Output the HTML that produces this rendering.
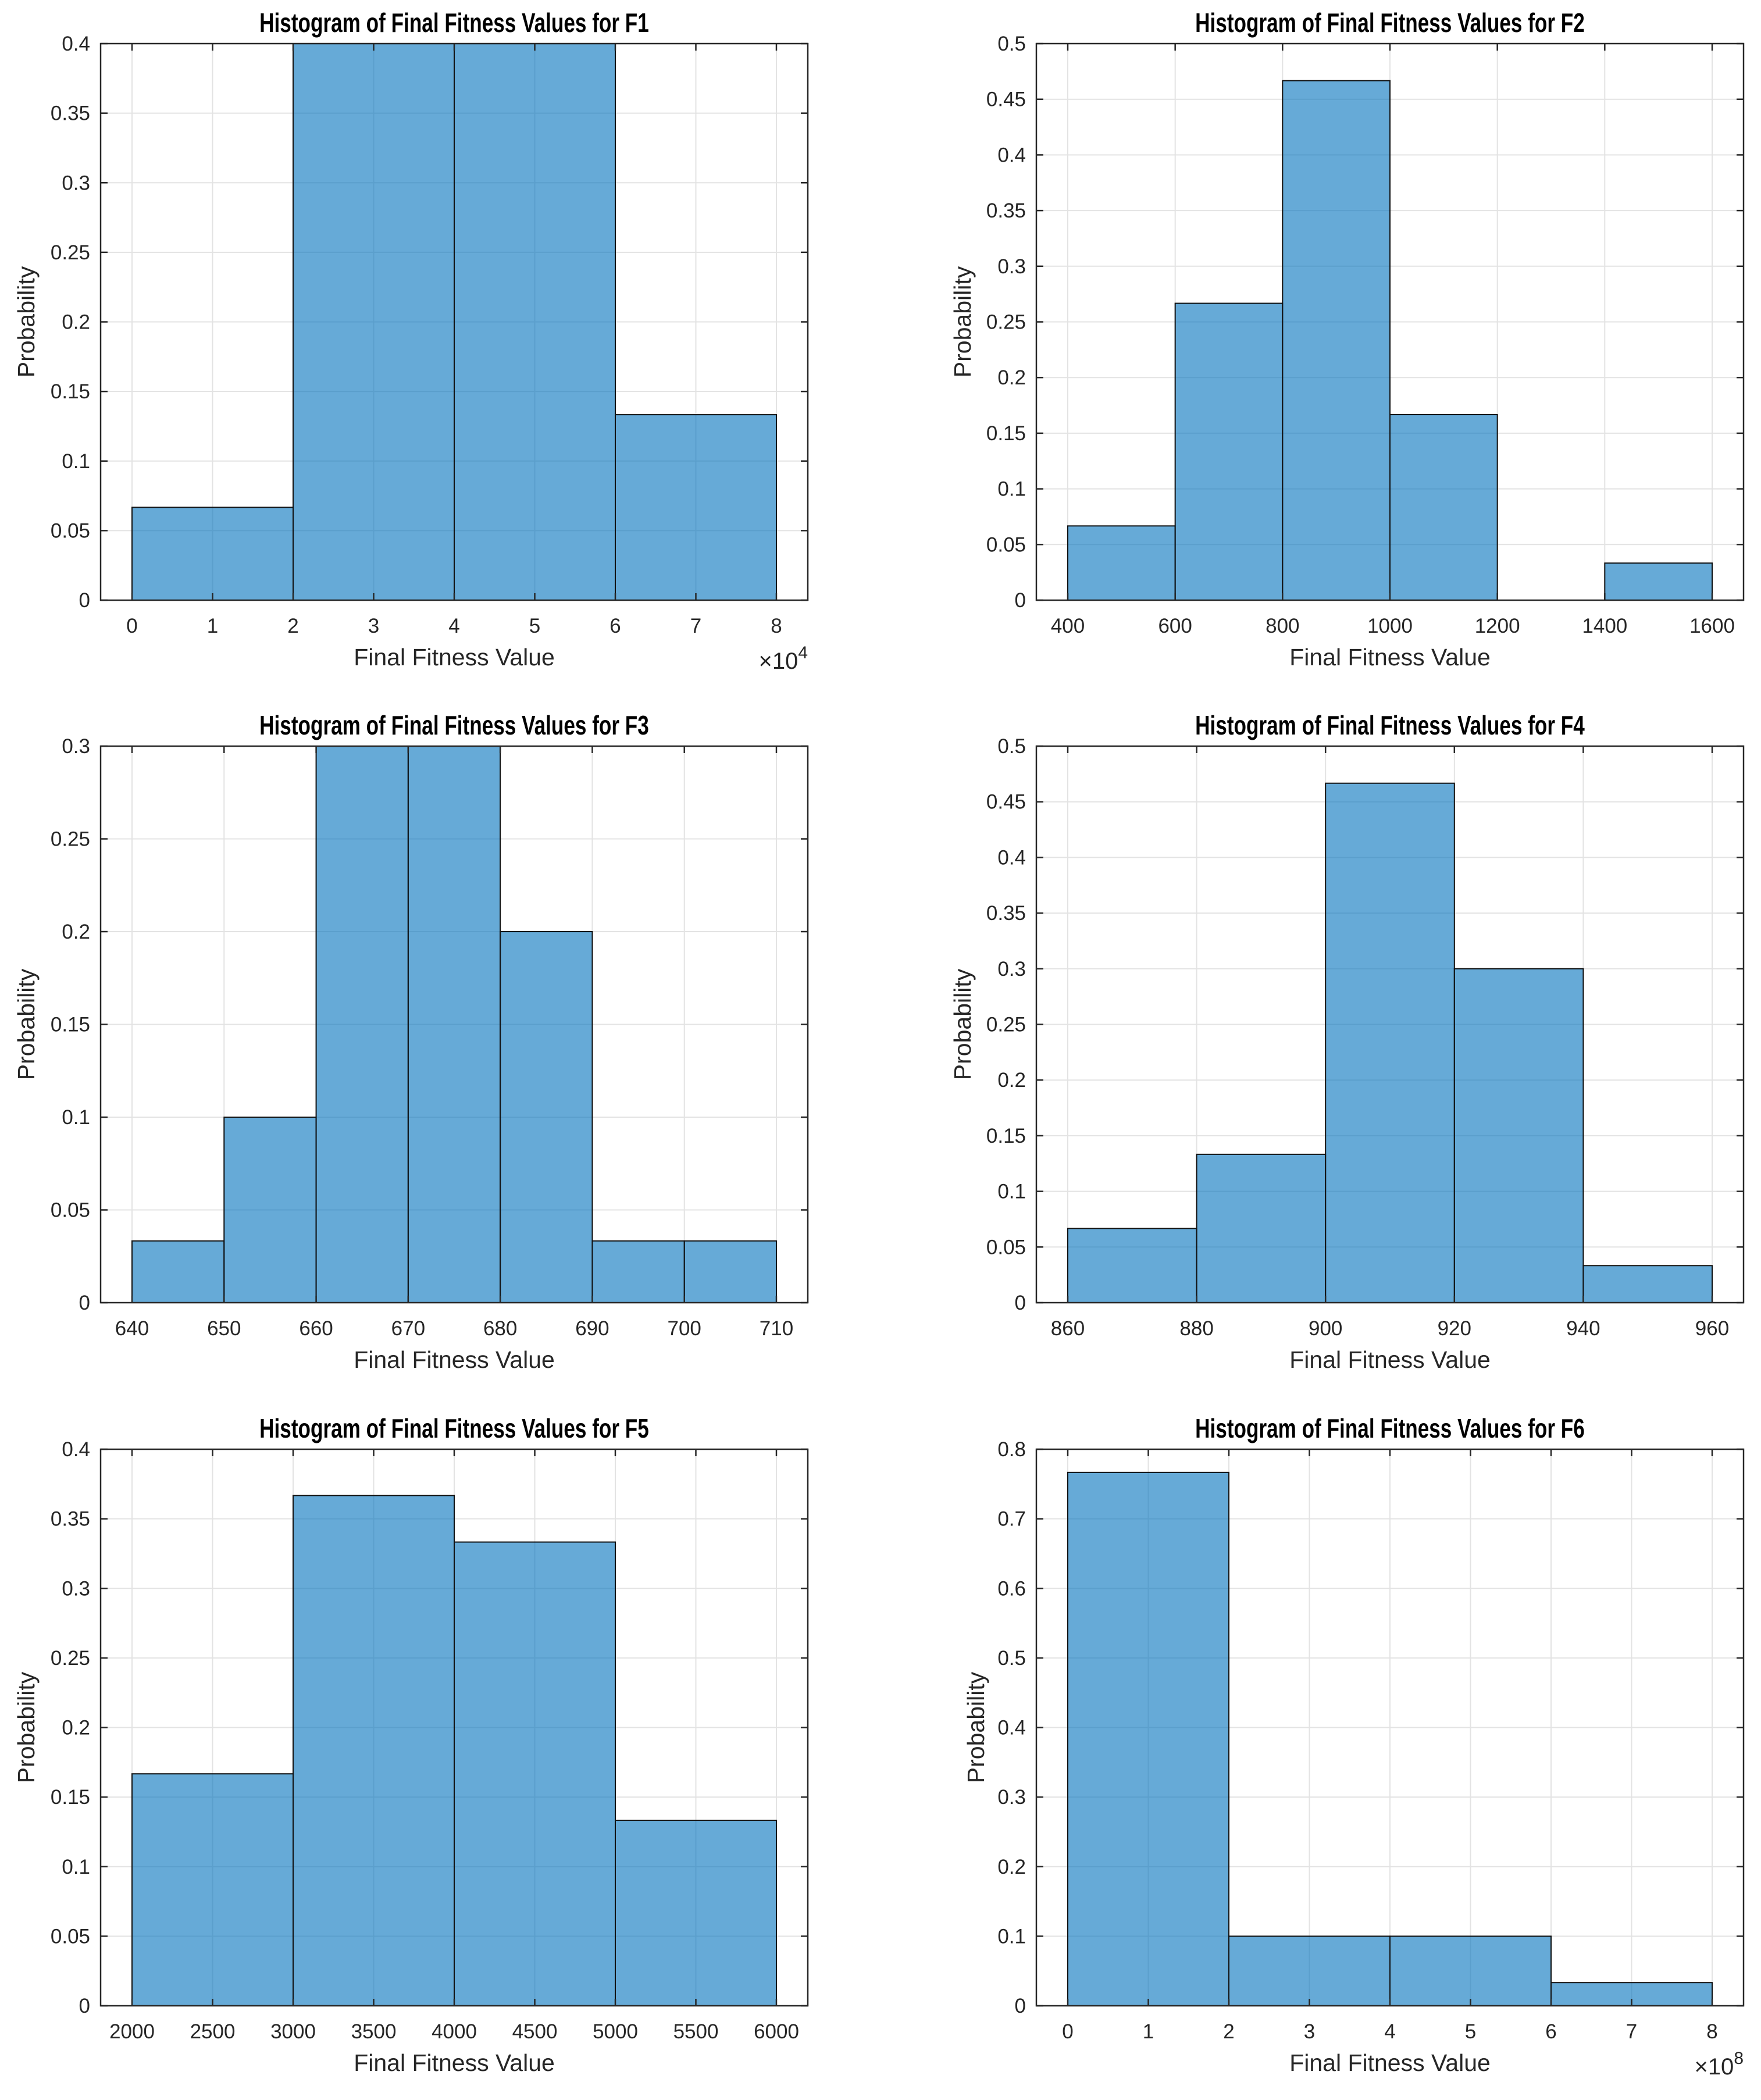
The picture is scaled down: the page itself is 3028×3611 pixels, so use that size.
<!DOCTYPE html>
<html><head><meta charset="utf-8"><style>
html,body{margin:0;padding:0;background:#fff;}
svg{display:block;font-family:"Liberation Sans",Arial,sans-serif;}
</style></head><body>
<svg id="fig" width="3028" height="3611" viewBox="0 0 3028 3611" xmlns="http://www.w3.org/2000/svg"></svg>
<script>
// Data arrays
const titles = ["F1","F2","F3","F4","F5","F6"];
const f1Edges = [0,2,4,6,8];            // x1e4
const f1Values = [0.0667,0.4,0.4,0.1333];
const f1XTicks = [0,1,2,3,4,5,6,7,8];
const f1YTicks = [0,0.05,0.1,0.15,0.2,0.25,0.3,0.35,0.4];
const f2Edges = [400,600,800,1000,1200,1400,1600];
const f2Values = [0.0667,0.2667,0.4667,0.1667,0,0.0333];
const f2XTicks = [400,600,800,1000,1200,1400,1600];
const f2YTicks = [0,0.05,0.1,0.15,0.2,0.25,0.3,0.35,0.4,0.45,0.5];
const f3Edges = [640,650,660,670,680,690,700,710];
const f3Values = [0.0333,0.1,0.3,0.3,0.2,0.0333,0.0333];
const f3XTicks = [640,650,660,670,680,690,700,710];
const f3YTicks = [0,0.05,0.1,0.15,0.2,0.25,0.3];
const f4Edges = [860,880,900,920,940,960];
const f4Values = [0.0667,0.1333,0.4667,0.3,0.0333];
const f4XTicks = [860,880,900,920,940,960];
const f4YTicks = [0,0.05,0.1,0.15,0.2,0.25,0.3,0.35,0.4,0.45,0.5];
const f5Edges = [2000,3000,4000,5000,6000];
const f5Values = [0.1667,0.3667,0.3333,0.1333];
const f5XTicks = [2000,2500,3000,3500,4000,4500,5000,5500,6000];
const f5YTicks = [0,0.05,0.1,0.15,0.2,0.25,0.3,0.35,0.4];
const f6Edges = [0,2,4,6,8];            // x1e8
const f6Values = [0.7667,0.1,0.1,0.0333];
const f6XTicks = [0,1,2,3,4,5,6,7,8];
const f6YTicks = [0,0.1,0.2,0.3,0.4,0.5,0.6,0.7,0.8];
const exponents = ["4",null,null,null,null,"8"];

const NS="http://www.w3.org/2000/svg";
const svg=document.getElementById('fig');
function mk(tag,attrs,parent){const e=document.createElementNS(NS,tag);for(const k in attrs)e.setAttribute(k,attrs[k]);(parent||svg).appendChild(e);return e;}

const panels=[
 {edges:f1Edges,vals:f1Values,xt:f1XTicks,yt:f1YTicks,L:173,T:75,ylx:46},
 {edges:f2Edges,vals:f2Values,xt:f2XTicks,yt:f2YTicks,L:1782,T:75,ylx:1656},
 {edges:f3Edges,vals:f3Values,xt:f3XTicks,yt:f3YTicks,L:173,T:1283,ylx:46},
 {edges:f4Edges,vals:f4Values,xt:f4XTicks,yt:f4YTicks,L:1782,T:1283,ylx:1656},
 {edges:f5Edges,vals:f5Values,xt:f5XTicks,yt:f5YTicks,L:173,T:2492,ylx:46},
 {edges:f6Edges,vals:f6Values,xt:f6XTicks,yt:f6YTicks,L:1782,T:2492,ylx:1679},
];
const W=1216,H=957,PAD=54;
const TICKFS=35;

panels.forEach((p,i)=>{
  const g=mk('g',{});
  
  
  const x0=p.edges[0],x1=p.edges[p.edges.length-1];
  const ymax=p.yt[p.yt.length-1];
  const sx=v=>p.L+PAD+(v-x0)/(x1-x0)*(W-2*PAD);
  const sy=v=>p.T+H-v/ymax*H;
  mk('rect',{x:p.L,y:p.T,width:W,height:H,fill:'#fff'},g);
  p.xt.forEach(t=>{const l=mk('line',{x1:sx(t),x2:sx(t),y1:p.T,y2:p.T+H,stroke:'#e3e3e3','stroke-width':2},g);
    });
  p.yt.forEach(t=>{const l=mk('line',{x1:p.L,x2:p.L+W,y1:sy(t),y2:sy(t),stroke:'#e3e3e3','stroke-width':2},g);
    });
  p.vals.forEach((v,j)=>{
    if(v<=0)return;
    const r=mk('rect',{x:sx(p.edges[j]),y:sy(v),width:sx(p.edges[j+1])-sx(p.edges[j]),height:sy(0)-sy(v),fill:'rgba(0,114,189,0.6)',stroke:'#111','stroke-width':2},g);
    
    
  });
  mk('rect',{x:p.L,y:p.T,width:W,height:H,fill:'none',stroke:'#262626','stroke-width':2.5},g);
  p.xt.forEach(t=>{
    mk('line',{x1:sx(t),x2:sx(t),y1:p.T+H,y2:p.T+H-12,stroke:'#262626','stroke-width':2.5},g);
    mk('line',{x1:sx(t),x2:sx(t),y1:p.T,y2:p.T+12,stroke:'#262626','stroke-width':2.5},g);
    const tx=mk('text',{x:sx(t),y:p.T+H+56,'text-anchor':'middle','font-size':TICKFS,fill:'#262626'},g);
    tx.textContent=String(t);
    
    
  });
  p.yt.forEach(t=>{
    mk('line',{x1:p.L,x2:p.L+12,y1:sy(t),y2:sy(t),stroke:'#262626','stroke-width':2.5},g);
    mk('line',{x1:p.L+W,x2:p.L+W-12,y1:sy(t),y2:sy(t),stroke:'#262626','stroke-width':2.5},g);
    const ty=mk('text',{x:p.L-18,y:sy(t)+12,'text-anchor':'end','font-size':TICKFS,fill:'#262626'},g);
    ty.textContent=String(t);
    
    
  });
  const cx=p.L+W/2;
  const ti=mk('text',{x:cx,y:p.T-20,'text-anchor':'middle','font-size':46,'font-weight':'bold',fill:'#000',transform:`translate(${cx} 0) scale(0.764 1) translate(${-cx} 0)`},g);
  ti.textContent='Histogram of Final Fitness Values for '+titles[i];
  
  
  const xl=mk('text',{x:cx,y:p.T+H+112,'text-anchor':'middle','font-size':41,fill:'#262626'},g);
  xl.textContent='Final Fitness Value';
  
  
  const cy=p.T+H/2;
  const yl=mk('text',{x:p.ylx+13,y:cy,'text-anchor':'middle','font-size':41,fill:'#262626',transform:`rotate(-90 ${p.ylx+13} ${cy})`},g);
  yl.textContent='Probability';
  
  
  if(exponents[i]){
    const ex=mk('text',{x:p.L+W,y:p.T+H+118,'text-anchor':'end','font-size':40,fill:'#262626'},g);
    ex.innerHTML='×10<tspan dy="-18" font-size="30">'+exponents[i]+'</tspan>';
    
    
  }
});
</script>
</body></html>
